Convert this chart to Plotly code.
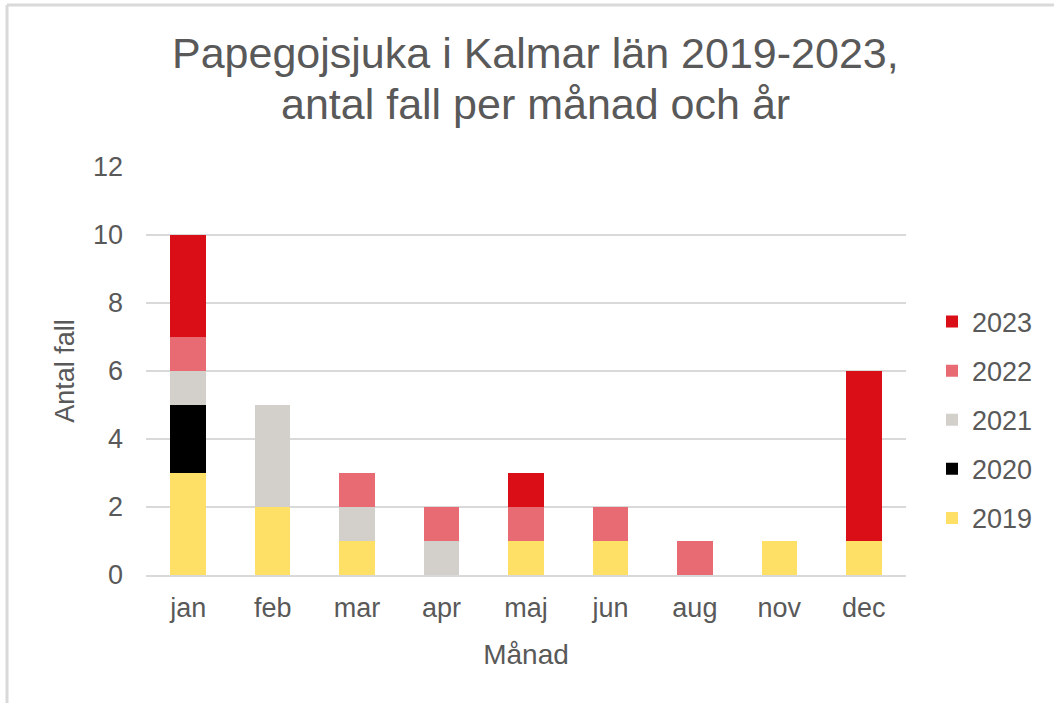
import plotly.graph_objects as go

months = ["jan", "feb", "mar", "apr", "maj", "jun", "aug", "nov", "dec"]
years = ["2019", "2020", "2021", "2022", "2023"]
v2019 = [3, 2, 1, 0, 1, 1, 0, 1, 1]
v2020 = [2, 0, 0, 0, 0, 0, 0, 0, 0]
v2021 = [1, 3, 1, 1, 0, 0, 0, 0, 0]
v2022 = [1, 0, 1, 1, 1, 1, 1, 0, 0]
v2023 = [3, 0, 0, 0, 1, 0, 0, 0, 5]
colors = ["#FFE066", "#000000", "#D3CFCB", "#E86B73", "#DA0E16"]
series = [v2019, v2020, v2021, v2022, v2023]
title_lines = ["Papegojsjuka i Kalmar län 2019-2023,", "antal fall per månad och år"]

W, H = 1054, 703
L, R, T, B = 146, 148, 167, 128
pw, ph = W - L - R, H - T - B

fig = go.Figure()
n = len(years)
for i, (y, vals, c) in enumerate(zip(years, series, colors)):
    fig.add_trace(go.Bar(x=months, y=vals, name=y, marker=dict(color=c, line=dict(width=0)),
                         legendgroup=y, legendrank=n - i))

grey = "#595959"
fig.update_layout(
    barmode="stack",
    bargap=0.58,
    width=W, height=H,
    margin=dict(l=L, r=R, t=T, b=B),
    paper_bgcolor="white", plot_bgcolor="white",
    font=dict(family="Liberation Sans, Arial, sans-serif", color=grey, size=27),
    legend=dict(traceorder="grouped", x=(932 - L) / pw, xanchor="left",
                y=(575 - 420) / ph, yanchor="middle", font=dict(size=27, color=grey),
                tracegroupgap=11, itemwidth=30),
    showlegend=True,
)
for line, ypx in zip(title_lines, [53, 104]):
    fig.add_annotation(text=line, xref="paper", yref="paper", x=(535 - L) / pw,
                       y=(575 - ypx) / ph, xanchor="center", yanchor="middle",
                       showarrow=False, font=dict(size=43, color=grey))

fig.update_yaxes(range=[0, 12], dtick=2, showgrid=True, gridcolor="#D9D9D9", gridwidth=2,
                 zeroline=False, showline=False, ticks="", ticklabelstandoff=22,
                 title=dict(text="Antal fall", font=dict(size=27, color=grey), standoff=10))
fig.update_xaxes(showline=True, linecolor="#D9D9D9", linewidth=2, ticks="",
                 ticklabelstandoff=8,
                 title=dict(text="Månad", font=dict(size=28, color=grey), standoff=22))

# outer chart border (left and top), like the source image
x0 = (7 - L) / pw
ytop = (H - B - 5) / ph
fig.add_shape(type="line", xref="paper", yref="paper", x0=x0, x1=x0, y0=-1, y1=ytop,
              line=dict(color="#D9D9D9", width=3))
fig.add_shape(type="line", xref="paper", yref="paper", x0=x0, x1=2, y0=ytop, y1=ytop,
              line=dict(color="#D9D9D9", width=3))

fig.write_html("out.html", config={"displayModeBar": False},
               post_script="document.body.style.margin='0';")
